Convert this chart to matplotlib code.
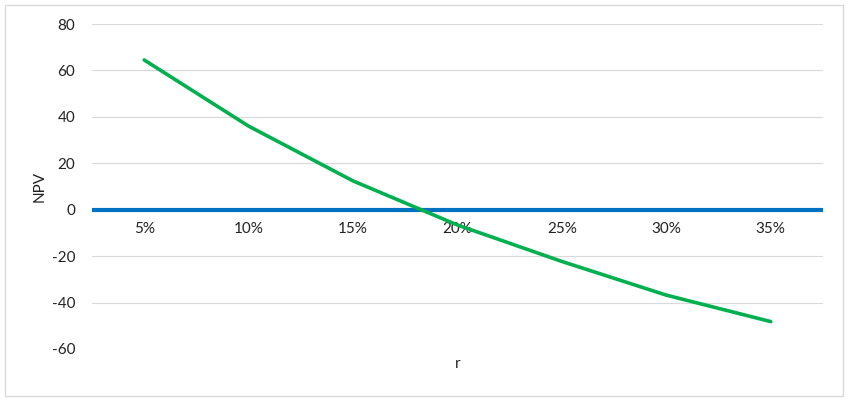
import matplotlib as mpl
mpl.use('Agg')
import matplotlib.pyplot as plt
import numpy as np

# data
rates = ['5%', '10%', '15%', '20%', '25%', '30%', '35%']
npv = [64.5, 36.0, 12.4, -6.6, -22.3, -36.8, -48.2]
yticks = [-60, -40, -20, 0, 20, 40, 60, 80]

plt.rcParams['font.family'] = ['Lato', 'DejaVu Sans']
txt = '#222222'

fig = plt.figure(figsize=(8.48, 4.07), dpi=100)
# light grey border round the chart
fig.patches.append(plt.Rectangle((5 / 848, 11 / 407), 838 / 848, 391 / 407,
                                 transform=fig.transFigure, fill=False,
                                 edgecolor='#D9D9D9', linewidth=1))
ax = fig.add_axes([92 / 848, 1 - 349 / 407, 731 / 848, 325 / 407])

x = np.arange(len(rates))
ax.plot(x, npv, color='#00B050', linewidth=2.6, solid_capstyle='round', zorder=3)

ax.set_xlim(-0.5, len(rates) - 0.5)
ax.set_ylim(-60, 80)
ax.set_yticks(yticks)
ax.set_yticklabels([str(v) for v in yticks])
ax.grid(axis='y', color='#D9D9D9', linewidth=0.8)
ax.set_axisbelow(True)

for s in ['top', 'right', 'left']:
    ax.spines[s].set_visible(False)
ax.spines['bottom'].set_position(('data', 0))
ax.spines['bottom'].set_color('#0070C0')
ax.spines['bottom'].set_linewidth(3)
ax.spines['bottom'].set_capstyle('butt')
ax.spines['bottom'].set_zorder(2)

ax.set_xticks(x)
ax.set_xticklabels(rates)
ax.tick_params(axis='x', length=0, pad=9, labelsize=11, labelcolor=txt)
ax.tick_params(axis='y', length=0, pad=12, labelsize=11, labelcolor=txt)

ax.text(0.5, -0.047, 'r', transform=ax.transAxes, ha='center', va='center',
        fontsize=11, color=txt)
ax.text(-0.071, 0.5, 'NPV', transform=ax.transAxes, ha='center', va='center',
        rotation=90, fontsize=11, color=txt)

plt.savefig('out.png', dpi=100)
